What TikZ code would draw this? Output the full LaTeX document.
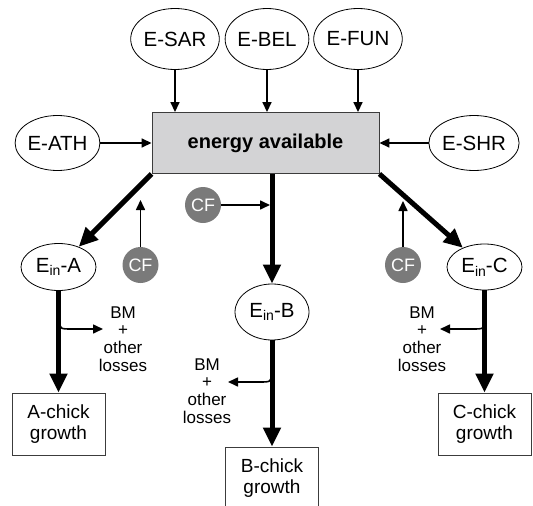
\documentclass[tikz,border=0pt]{standalone}
\usepackage{fontspec}
\setmainfont{Liberation Sans}
\usetikzlibrary{arrows.meta,shapes.geometric}
\definecolor{boxgray}{RGB}{211,211,213}
\definecolor{cfgray}{RGB}{122,122,122}
\definecolor{edgegray}{RGB}{60,60,60}
\newcommand{\Ein}[1]{E\raisebox{-0.35ex}{\fontsize{14}{14}\selectfont in}-#1}
\tikzset{
  ell/.style={ellipse,draw,line width=0.8pt,inner sep=0pt,font=\fontsize{20.5}{22}\selectfont},
  cbox/.style={rectangle,draw=edgegray,line width=0.9pt,minimum width=93pt,minimum height=62pt,align=center,font=\fontsize{19}{21}\selectfont},
  cf/.style={circle,fill=cfgray,text=white,minimum size=36pt,inner sep=0pt,font=\fontsize{18}{18}\selectfont},
  thin arrow/.style={line width=1.6pt,-{Triangle[length=10pt,width=9pt]}},
  thick arrow/.style={line width=5pt,-{Triangle[length=19pt,width=17pt]}},
  losstxt/.style={align=center,inner sep=0pt,font=\fontsize{17}{17.8}\selectfont},
}
\begin{document}
\begin{tikzpicture}[x=1pt,y=-1pt]
\useasboundingbox (0,0) rectangle (533,506);
% main box
\node[rectangle,draw=edgegray,line width=0.9pt,fill=boxgray,minimum width=227pt,minimum height=61pt,font=\bfseries\fontsize{20}{22}\selectfont] (box) at (265.5,143) {energy available};
% source ellipses
\node[ell,minimum width=72pt,minimum height=61pt] (SAR) at (175,39) {E-SAR};
\node[ell,minimum width=72pt,minimum height=61pt] (BEL) at (267,39) {E-BEL};
\node[ell,minimum width=72pt,minimum height=61pt] (FUN) at (358,39) {E-FUN};
\node[ell,minimum width=73pt,minimum height=55pt] (ATH) at (57.5,143) {E-ATH};
\node[ell,minimum width=73pt,minimum height=55pt] (SHR) at (474,143) {E-SHR};
\draw[thin arrow] (SAR) -- (SAR |- box.north);
\draw[thin arrow] (BEL) -- (BEL |- box.north);
\draw[thin arrow] (FUN) -- (FUN |- box.north);
\draw[thin arrow] (ATH) -- (box);
\draw[thin arrow] (SHR) -- (box);
% intake ellipses
\node[ell,minimum width=75pt,minimum height=47pt] (EA) at (58.5,267) {\Ein{A}};
\node[ell,minimum width=74pt,minimum height=56pt] (EB) at (272,312) {\Ein{B}};
\node[ell,minimum width=75pt,minimum height=46pt] (EC) at (484.5,267) {\Ein{C}};
\draw[thick arrow] (box.south west) -- (EA);
\draw[thick arrow] (box.south east) -- (EC);
\draw[thick arrow] (box.south -| EB) -- (EB);
% CF
\node[cf] (CFa) at (140.5,265) {CF};
\node[cf] (CFb) at (203,205) {CF};
\node[cf] (CFc) at (403,265) {CF};
\coordinate (ta) at (140.5,200);
\coordinate (tc) at (403,201);
\coordinate (tb) at (270,205);
\draw[thin arrow] (CFa) -- (ta);
\draw[thin arrow] (CFc) -- (tc);
\draw[thin arrow] (CFb) -- (tb);
% growth boxes
\node[cbox] (GA) at (58.5,424) {A-chick\\growth};
\node[cbox] (GB) at (272,478) {B-chick\\growth};
\node[cbox] (GC) at (484.5,424) {C-chick\\growth};
\draw[thick arrow] (EA) -- (EA |- GA.north);
\draw[thick arrow] (EB) -- (EB |- GB.north);
\draw[thick arrow] (EC) -- (EC |- GC.north);
% losses
\node[losstxt] (LA) at (123,339) {BM\\+\\other\\losses};
\node[losstxt] (LB) at (207,391) {BM\\+\\other\\losses};
\node[losstxt] (LC) at (422,339) {BM\\+\\other\\losses};
\coordinate (sA) at (59,320);
\coordinate (eA) at (103,329);
\coordinate (sB) at (272,373);
\coordinate (eB) at (228,382);
\coordinate (sC) at (485,320);
\coordinate (eC) at (440,329);
\draw[thin arrow] (sA) .. controls (60,329) .. (72,329) -- (eA);
\draw[thin arrow] (sB) .. controls (271,382) .. (259,382) -- (eB);
\draw[thin arrow] (sC) .. controls (484,329) .. (472,329) -- (eC);
\end{tikzpicture}
\end{document}
